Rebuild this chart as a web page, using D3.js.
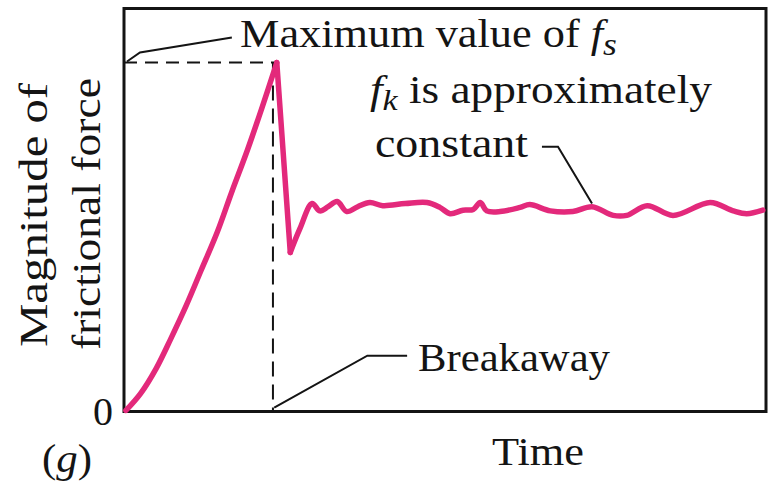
<!DOCTYPE html>
<html>
<head>
<meta charset="utf-8">
<script src="https://cdn.jsdelivr.net/npm/d3@7"></script>
<style>
  html, body { margin: 0; padding: 0; background: #fff; }
  svg { display: block; }
  text { font-family: "Liberation Serif", "Times New Roman", serif; fill: #141414; }
</style>
</head>
<body>
<svg id="chart" width="771" height="486"></svg>
<script>
// ---- data (time in arbitrary units 0..100, force with f_s,max = 10) ----
const riseTime   = [0.3, 2.6, 5.0, 7.3, 9.7, 12.0, 14.5, 16.8, 19.2, 21.5, 23.8];
const riseForce  = [0.03, 0.52, 1.23, 2.09, 3.04, 4.04, 5.13, 6.30, 7.48, 8.71, 10.0];
const settleTime  = [25.9, 27.4, 29.3, 30.5, 31.8, 33.2, 34.7, 36.4, 38.3, 40.3, 43.8, 47.2, 49.2, 50.8, 52.8, 54.4, 55.5, 56.5, 58.6, 61.7, 63.2, 66.4, 69.9, 72.9, 76.2, 78.3, 81.5, 85.5, 91.3, 94.9, 97.0, 99.5];
const settleForce = [4.56, 5.24, 5.96, 5.75, 5.87, 6.02, 5.73, 5.87, 5.99, 5.90, 5.96, 5.99, 5.85, 5.67, 5.77, 5.79, 5.99, 5.75, 5.73, 5.85, 5.93, 5.75, 5.73, 5.87, 5.62, 5.62, 5.90, 5.62, 5.99, 5.75, 5.67, 5.77];
const yTickValues = [0];
const yTickLabels = ["0"];
const fsMax = 10;
const breakawayTime = 23.2;
const xMax = 100, yMax = 11.55;

const svg = d3.select("#chart");
const x = d3.scaleLinear().domain([0, xMax]).range([124, 766]);
const y = d3.scaleLinear().domain([0, yMax]).range([411.5, 8.5]);

const pink = "#e3297b";
const ink = "#141414";

// frame
svg.append("rect")
  .attr("x", x(0)).attr("y", y(yMax))
  .attr("width", x(xMax) - x(0)).attr("height", y(0) - y(yMax))
  .attr("fill", "none").attr("stroke", ink).attr("stroke-width", 3);

// y axis tick "0"
const yAxis = d3.axisLeft(y).tickValues(yTickValues).tickFormat((d, i) => yTickLabels[i]).tickSize(0).tickPadding(11);
const gy = svg.append("g").attr("transform", `translate(${x(0)},0)`).call(yAxis);
gy.select(".domain").remove();
gy.selectAll("text").attr("font-size", 40).attr("font-family", "Liberation Serif, serif").attr("fill", ink);

// dashed guide lines
svg.append("line")
  .attr("x1", x(0)).attr("y1", y(fsMax)).attr("x2", x(riseTime[riseTime.length-1]) - 2).attr("y2", y(fsMax))
  .attr("stroke", ink).attr("stroke-width", 2).attr("stroke-dasharray", "13,8");
svg.append("line")
  .attr("x1", x(breakawayTime)).attr("y1", y(fsMax)).attr("x2", x(breakawayTime)).attr("y2", y(0))
  .attr("stroke", ink).attr("stroke-width", 2).attr("stroke-dasharray", "15,8");

// leader lines (in data units)
const leaderMax = [[0.47, 10.03], [2.49, 10.29], [16.8, 10.72]];
const leaderBreak = [[23.4, 0.11], [37.9, 1.60], [44.1, 1.60]];
const leaderConst = [[65.1, 7.59], [67.6, 7.59], [72.9, 5.96]];
const lineFn = d3.line().x(d => x(d[0])).y(d => y(d[1]));
[leaderMax, leaderBreak, leaderConst].forEach(pts => {
  svg.append("path").attr("d", lineFn(pts)).attr("fill", "none")
    .attr("stroke", ink).attr("stroke-width", 2);
});

// friction curve
const rise = riseTime.map((t, i) => [t, riseForce[i]]);
const settle = settleTime.map((t, i) => [t, settleForce[i]]);
const smooth = d3.line().x(d => x(d[0])).y(d => y(d[1])).curve(d3.curveCatmullRom.alpha(0.5));
const straight = d3.line().x(d => x(d[0])).y(d => y(d[1]));
const curveG = svg.append("g").attr("fill", "none").attr("stroke", pink)
  .attr("stroke-width", 5.5).attr("stroke-linecap", "round").attr("stroke-linejoin", "round");
curveG.append("path").attr("d", smooth(rise));
curveG.append("path").attr("d", straight([rise[rise.length-1], settle[0]]));
curveG.append("path").attr("d", smooth(settle));

// text helper: fit text horizontally between x0..x1 at baseline
function fitText(build, x0, x1, baseline, size, rotate) {
  const t = svg.append("text").attr("font-size", size).attr("x", 0).attr("y", 0);
  build(t);
  const w = t.node().getBBox().width;
  const k = (Math.abs(x1 - x0)) / w;
  if (rotate) {
    t.attr("transform", `translate(${baseline},${x0}) rotate(-90) scale(${k},1)`);
  } else {
    t.attr("transform", `translate(${x0},${baseline}) scale(${k},1)`);
  }
  return t;
}

fitText(t => {
  t.append("tspan").text("Maximum value of ");
  t.append("tspan").attr("font-style", "italic").text("f");
  t.append("tspan").attr("font-style", "italic").attr("font-size", 32).attr("dy", 8).text("s");
}, 240, 617, 47, 40);

fitText(t => {
  t.append("tspan").attr("font-style", "italic").text("f");
  t.append("tspan").attr("font-style", "italic").attr("font-size", 30).attr("dy", 7).text("k");
  t.append("tspan").attr("dy", -7).text(" is approximately");
}, 370, 712, 103, 40);

fitText(t => t.text("constant"), 375, 528, 157, 40);
fitText(t => t.text("Breakaway"), 418, 610, 371, 40);
fitText(t => t.text("Time"), 492, 584, 465, 40);
fitText(t => {
  t.append("tspan").text("(");
  t.append("tspan").attr("font-style", "italic").text("g");
  t.append("tspan").text(")");
}, 42, 92, 472, 40);

fitText(t => t.text("Magnitude of"), 347, 82, 47, 40, true);
fitText(t => t.text("frictional force"), 350, 78, 100, 40, true);
</script>
</body>
</html>
